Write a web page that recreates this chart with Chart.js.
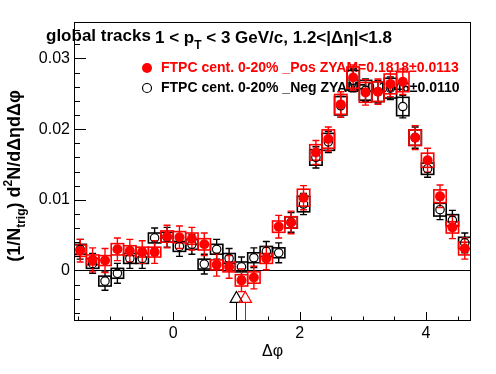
<!DOCTYPE html>
<html>
<head>
<meta charset="utf-8">
<script src="https://cdn.jsdelivr.net/npm/chart.js@4"></script>
<style>
body{margin:0;background:#fff;}
#c{display:block;}
</style>
</head>
<body>
<canvas id="c" width="496" height="374"></canvas>
<script>
// bin centres in dphi (32 bins, -pi/2 .. 3pi/2)
var dphi = [-1.473, -1.276, -1.080, -0.884, -0.687, -0.491, -0.295, -0.098,
	0.098, 0.295, 0.491, 0.687, 0.884, 1.080, 1.276, 1.473,
	1.669, 1.865, 2.062, 2.258, 2.454, 2.651, 2.847, 3.043,
	3.240, 3.436, 3.633, 3.829, 4.025, 4.222, 4.418, 4.614];
var halfBin = 0.098;

// FTPC cent. 0-20% _Pos (red, filled)
var posY = [0.0028, 0.0015, 0.0014, 0.0030, 0.0028, 0.0026, 0.0026, 0.0048,
	0.0047, 0.0045, 0.0037, 0.0008, 0.0005, -0.0014, -0.0010, 0.0017,
	0.0062, 0.0068, 0.0103, 0.0167, 0.0186, 0.0235, 0.0273, 0.0252,
	0.0253, 0.0264, 0.0267, 0.0188, 0.0156, 0.0105, 0.0061, 0.0031];
var posStat = [0.0016, 0.0017, 0.0017, 0.0016, 0.0016, 0.0016, 0.0016, 0.0016,
	0.0016, 0.0016, 0.0016, 0.0016, 0.0016, 0.0016, 0.0016, 0.0016,
	0.0016, 0.0016, 0.0017, 0.0017, 0.0017, 0.0018, 0.0018, 0.0018,
	0.0018, 0.0018, 0.0018, 0.0017, 0.0017, 0.0016, 0.0016, 0.0015];
var posSys = [0.0008, 0.0007, 0.0007, 0.0008, 0.0007, 0.0007, 0.0007, 0.0008,
	0.0008, 0.0008, 0.0008, 0.0007, 0.0007, 0.0008, 0.0008, 0.0007,
	0.0008, 0.0008, 0.0012, 0.0011, 0.0013, 0.0014, 0.0015, 0.0014,
	0.0014, 0.0014, 0.0014, 0.0011, 0.0010, 0.0009, 0.0008, 0.0009];

// FTPC cent. 0-20% _Neg (black, open)
var negY = [0.0030, 0.0010, -0.0015, -0.0004, 0.0017, 0.0017, 0.0046, 0.0047,
	0.0034, 0.0037, 0.0009, 0.0030, 0.0017, 0.0005, 0.0018, 0.0027,
	0.0025, 0.0068, 0.0094, 0.0160, 0.0182, 0.0233, 0.0269, 0.0255,
	0.0253, 0.0258, 0.0232, 0.0188, 0.0144, 0.0086, 0.0071, 0.0039];
var negStat = [0.0014, 0.0014, 0.0013, 0.0014, 0.0014, 0.0014, 0.0014, 0.0014,
	0.0014, 0.0014, 0.0014, 0.0014, 0.0014, 0.0014, 0.0014, 0.0014,
	0.0014, 0.0014, 0.0015, 0.0015, 0.0015, 0.0016, 0.0016, 0.0016,
	0.0016, 0.0016, 0.0016, 0.0015, 0.0012, 0.0014, 0.0014, 0.0014];
var negSys = [0.0007, 0.0007, 0.0007, 0.0007, 0.0007, 0.0007, 0.0007, 0.0007,
	0.0007, 0.0007, 0.0007, 0.0007, 0.0007, 0.0007, 0.0007, 0.0007,
	0.0007, 0.0008, 0.0011, 0.0011, 0.0012, 0.0013, 0.0014, 0.0014,
	0.0014, 0.0014, 0.0013, 0.0011, 0.0008, 0.0009, 0.0008, 0.0008];

// ZYAM minimum markers: neg (black), pos (red)
var zyamPhi = [1.00, 1.14];
var zyamMark = [-0.0040, -0.0040];

var xMajor = [0, 2, 4];
var xLabels = ["0", "2", "4"];
var xMinor = [-1.5, -1, -0.5, 0.5, 1, 1.5, 2.5, 3, 3.5, 4.5];
var yMajor = [0, 0.01, 0.02, 0.03];
var yLabels = ["0", "0.01", "0.02", "0.03"];
var yMinor = [-0.006, -0.004, -0.002, 0.002, 0.004, 0.006, 0.008, 0.012, 0.014, 0.016,
	0.018, 0.022, 0.024, 0.026, 0.028, 0.032, 0.034];

var FONT = '"Liberation Sans", Arial, sans-serif';
var RED = "#ff0000";

function points(xs, ys){
	var out = [];
	for(var i=0;i<xs.length;i++){
		out.push({x: xs[i], y: ys[i]});
	}
	return out;
}

function drawParts(ctx, parts, x, y, align){
	var w = 0;
	parts.forEach(function(p){
		ctx.font = p.f;
		p.w = ctx.measureText(p.t).width;
		w += p.w;
	});
	var cx = align == "center" ? x - w/2 : x;
	parts.forEach(function(p){
		ctx.font = p.f;
		ctx.fillText(p.t, cx, y + (p.dy || 0));
		cx += p.w;
	});
}

function drawSys(ctx, xs, ys, sys, color, chart){
	var sx = chart.scales.x, sy = chart.scales.y;
	ctx.strokeStyle = color;
	ctx.lineWidth = 1.6;
	for(var i=0;i<xs.length;i++){
		var x0 = sx.getPixelForValue(xs[i] - halfBin);
		var x1 = sx.getPixelForValue(xs[i] + halfBin);
		var y0 = sy.getPixelForValue(ys[i] + sys[i]);
		var y1 = sy.getPixelForValue(ys[i] - sys[i]);
		ctx.strokeRect(x0, y0, x1 - x0, y1 - y0);
	}
}

function drawErr(ctx, xs, ys, err, color, gap, chart){
	var sx = chart.scales.x, sy = chart.scales.y;
	ctx.strokeStyle = color;
	ctx.lineWidth = 1.4;
	ctx.beginPath();
	for(var i=0;i<xs.length;i++){
		var px = sx.getPixelForValue(xs[i]);
		var pc = sy.getPixelForValue(ys[i]);
		var pt = sy.getPixelForValue(ys[i] + err[i]);
		var pb = sy.getPixelForValue(ys[i] - err[i]);
		ctx.moveTo(px, pt); ctx.lineTo(px, pc - gap);
		ctx.moveTo(px, pc + gap); ctx.lineTo(px, pb);
		ctx.moveTo(px - 3.5, pt); ctx.lineTo(px + 3.5, pt);
		ctx.moveTo(px - 3.5, pb); ctx.lineTo(px + 3.5, pb);
	}
	ctx.stroke();
}

var rootStyle = {
	id: "rootStyle",
	beforeDatasetsDraw: function(chart){
		var ctx = chart.ctx, a = chart.chartArea;
		var sx = chart.scales.x, sy = chart.scales.y;
		ctx.save();

		// legend (sits under the data, as in the original)
		ctx.textBaseline = "middle";
		ctx.textAlign = "left";
		ctx.fillStyle = RED;
		ctx.beginPath(); ctx.arc(147, 68, 5, 0, 2*Math.PI); ctx.fill();
		ctx.font = "bold 14px " + FONT;
		ctx.fillText("FTPC cent. 0-20% _Pos ZYAM=0.1818\u00b10.0113", 161, 68);
		ctx.strokeStyle = "#000"; ctx.lineWidth = 1.2;
		ctx.beginPath(); ctx.arc(147, 88, 4.5, 0, 2*Math.PI); ctx.stroke();
		ctx.fillStyle = "#000";
		ctx.fillText("FTPC cent. 0-20% _Neg ZYAM=0.1646\u00b10.0110", 161, 88);

		ctx.beginPath();
		ctx.rect(a.left, a.top, a.right - a.left, a.bottom - a.top);
		ctx.clip();

		// zero line
		var y0 = Math.round(sy.getPixelForValue(0)) + 0.5;
		ctx.strokeStyle = "#000"; ctx.lineWidth = 1;
		ctx.beginPath(); ctx.moveTo(a.left, y0); ctx.lineTo(a.right, y0); ctx.stroke();

		// ZYAM position lines
		var zc = ["#000", RED];
		for(var k=0;k<zyamPhi.length;k++){
			var zx = Math.round(sx.getPixelForValue(zyamPhi[k])) + 0.5;
			ctx.strokeStyle = zc[k];
			ctx.beginPath();
			ctx.moveTo(zx, sy.getPixelForValue(zyamMark[k]) + 3.6);
			ctx.lineTo(zx, a.bottom);
			ctx.stroke();
		}

		drawSys(ctx, dphi, negY, negSys, "#000", chart);
		drawErr(ctx, dphi, negY, negStat, "#000", 4.5, chart);
		drawSys(ctx, dphi, posY, posSys, RED, chart);
		drawErr(ctx, dphi, posY, posStat, RED, 4.5, chart);
		ctx.restore();
	},
	afterDatasetsDraw: function(chart){
		var ctx = chart.ctx, a = chart.chartArea;
		var sx = chart.scales.x, sy = chart.scales.y;
		ctx.save();
		ctx.strokeStyle = "#000";
		ctx.lineWidth = 1;
		ctx.strokeRect(a.left + 0.5, a.top + 0.5, a.right - a.left - 1, a.bottom - a.top - 1);

		ctx.beginPath();
		xMajor.forEach(function(v){
			var p = Math.round(sx.getPixelForValue(v)) + 0.5;
			ctx.moveTo(p, a.bottom); ctx.lineTo(p, a.bottom - 9);
		});
		xMinor.forEach(function(v){
			var p = Math.round(sx.getPixelForValue(v)) + 0.5;
			ctx.moveTo(p, a.bottom); ctx.lineTo(p, a.bottom - 4.5);
		});
		yMajor.forEach(function(v){
			var p = Math.round(sy.getPixelForValue(v)) + 0.5;
			ctx.moveTo(a.left, p); ctx.lineTo(a.left + 12, p);
		});
		yMinor.forEach(function(v){
			var p = Math.round(sy.getPixelForValue(v)) + 0.5;
			ctx.moveTo(a.left, p); ctx.lineTo(a.left + 6, p);
		});
		ctx.stroke();

		ctx.fillStyle = "#000";
		ctx.font = "16px " + FONT;
		ctx.textAlign = "center";
		ctx.textBaseline = "top";
		xMajor.forEach(function(v, i){
			ctx.fillText(xLabels[i], sx.getPixelForValue(v), a.bottom + 5);
		});
		ctx.textAlign = "right";
		ctx.textBaseline = "middle";
		yMajor.forEach(function(v, i){
			ctx.fillText(yLabels[i], a.left - 4, sy.getPixelForValue(v));
		});

		// x title
		ctx.textAlign = "center";
		ctx.fillText("\u0394\u03c6", (a.left + a.right)/2, 352);

		// y title
		ctx.save();
		ctx.translate(20, 176);
		ctx.rotate(-Math.PI/2);
		ctx.textAlign = "left";
		ctx.textBaseline = "alphabetic";
		var b = "bold 18px " + FONT, s = "bold 12px " + FONT;
		drawParts(ctx, [
			{t: "(1/N", f: b},
			{t: "trig", f: s, dy: 5},
			{t: ") d", f: b},
			{t: "2", f: s, dy: -8},
			{t: "N/d\u0394\u03b7d\u0394\u03c6", f: b}
		], 0, 0, "center");
		ctx.restore();

		// title
		ctx.textAlign = "left";
		ctx.textBaseline = "alphabetic";
		ctx.font = "bold 17px " + FONT;
		ctx.fillText("global tracks", 46, 41);
		drawParts(ctx, [
			{t: "1 < p", f: "bold 17px " + FONT},
			{t: "T", f: "bold 12px " + FONT, dy: 6},
			{t: " < 3 GeV/c, 1.2<|\u0394\u03b7|<1.8", f: "bold 17px " + FONT}
		], 155, 43, "left");
		ctx.restore();
	}
};

new Chart(document.getElementById("c"), {
	type: "scatter",
	data: {
		datasets: [
			{
				label: "Neg",
				data: points(dphi, negY),
				pointStyle: "circle",
				pointRadius: 4.2,
				backgroundColor: "rgba(0,0,0,0)",
				borderColor: "#000",
				borderWidth: 1.2,
				order: 2
			},
			{
				label: "Pos",
				data: points(dphi, posY),
				pointStyle: "circle",
				pointRadius: 5,
				backgroundColor: RED,
				borderColor: RED,
				borderWidth: 0,
				order: 1
			},
			{
				label: "ZYAM",
				data: points(zyamPhi, zyamMark),
				pointStyle: "triangle",
				pointRadius: 7.2,
				backgroundColor: "rgba(255,255,255,0)",
				borderColor: ["#000", RED],
				borderWidth: 1.2,
				order: 0
			}
		]
	},
	options: {
		responsive: false,
		animation: false,
		devicePixelRatio: 1,
		layout: {padding: {left: 74, right: 25, top: 22, bottom: 53}},
		plugins: {legend: {display: false}, tooltip: {enabled: false}},
		scales: {
			x: {type: "linear", min: -Math.PI/2, max: 3*Math.PI/2, display: false},
			y: {type: "linear", min: -0.00715, max: 0.03516, display: false}
		}
	},
	plugins: [rootStyle]
});
</script>
</body>
</html>
